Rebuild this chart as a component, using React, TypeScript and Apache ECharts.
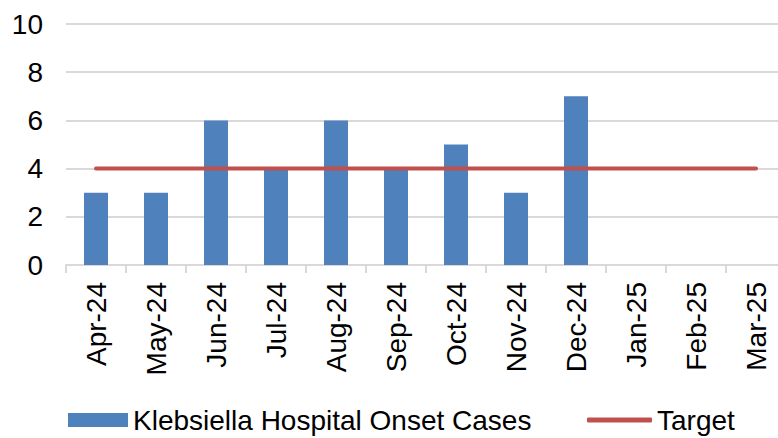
import React, { useEffect, useRef } from "react";
import * as echarts from "echarts";

const categories = ["Apr-24", "May-24", "Jun-24", "Jul-24", "Aug-24", "Sep-24", "Oct-24", "Nov-24", "Dec-24", "Jan-25", "Feb-25", "Mar-25"];
const cases: (number | null)[] = [3, 3, 6, 4, 6, 4, 5, 3, 7, null, null, null];
const target = [4, 4, 4, 4, 4, 4, 4, 4, 4, 4, 4, 4];

const FONT = "'Liberation Sans', Arial, sans-serif";
const FS = 28;

export default function App() {
  const ref = useRef<HTMLDivElement>(null);
  useEffect(() => {
    if (!ref.current) return;
    const chart = echarts.init(ref.current, undefined, { renderer: "svg" });
    chart.setOption({
      animation: false,
      textStyle: { fontFamily: FONT },
      grid: { left: 66, width: 720, top: 24, bottom: 173, containLabel: false },
      legend: [
        {
          left: 63,
          top: 401,
          itemWidth: 60,
          itemHeight: 14,
          textStyle: { fontSize: FS, color: "#000", fontFamily: FONT },
          data: [{ name: "Klebsiella Hospital Onset Cases", icon: "rect" }],
        },
        {
          left: 582,
          top: 401,
          itemWidth: 65,
          itemHeight: 5,
          textStyle: { fontSize: FS, color: "#000", fontFamily: FONT },
          data: [{ name: "Target", icon: "roundRect" }],
        },
      ],
      xAxis: {
        type: "category",
        data: categories,
        axisLine: { lineStyle: { color: "#d9d9d9", width: 2 } },
        axisTick: { show: true, length: 8, lineStyle: { color: "#d9d9d9", width: 2 } },
        axisLabel: { rotate: 90, fontSize: FS, color: "#000", margin: 17, fontFamily: FONT },
      },
      yAxis: {
        type: "value",
        min: 0,
        max: 10,
        interval: 2,
        axisLine: { show: false },
        axisTick: { show: false },
        splitLine: { lineStyle: { color: "#d9d9d9", width: 2 } },
        axisLabel: { fontSize: FS, color: "#000", margin: 23, fontFamily: FONT },
      },
      series: [
        {
          name: "Klebsiella Hospital Onset Cases",
          type: "bar",
          data: cases,
          barWidth: 24,
          itemStyle: { color: "#4F81BD" },
        },
        {
          name: "Target",
          type: "line",
          data: target,
          symbol: "none",
          lineStyle: { color: "#C0504D", width: 4, cap: "round" },
          itemStyle: { color: "#C0504D" },
          z: 3,
        },
      ],
    });
    return () => chart.dispose();
  }, []);
  return (
    <div style={{ width: 778, height: 438, position: "absolute", left: 0, top: 0, overflow: "hidden" }}>
      <div ref={ref} style={{ width: 790, height: 438 }} />
    </div>
  );
}
